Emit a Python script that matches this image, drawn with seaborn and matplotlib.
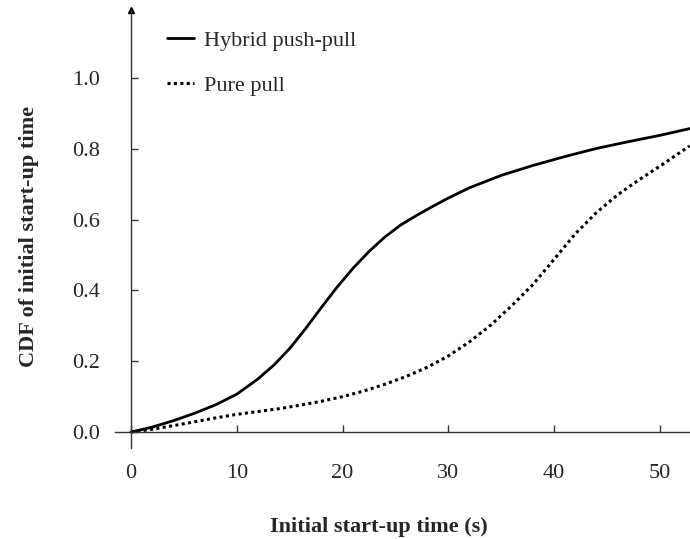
import matplotlib
matplotlib.use("Agg")
import matplotlib.pyplot as plt
import seaborn as sns
import pandas as pd

# Data
hybrid_x = [0, 2, 4, 6, 8, 10, 12, 13.5, 15, 16.5, 18, 19.5, 21, 22.5, 24, 25.5, 27,
            28.5, 30, 32, 35, 38, 41, 44, 47, 50, 52.8]
hybrid_y = [0, 0.014, 0.032, 0.053, 0.077, 0.107, 0.15, 0.189, 0.236, 0.292, 0.352, 0.41,
            0.463, 0.51, 0.551, 0.585, 0.612, 0.637, 0.661, 0.69, 0.725, 0.753, 0.778,
            0.801, 0.82, 0.838, 0.857]
pure_x = [0, 2, 4, 6, 8, 10, 12, 14, 16, 18, 20, 22, 24, 26, 28, 30, 32, 34, 36, 38,
          40, 42, 44, 46, 48, 50, 52.8]
pure_y = [0, 0.008, 0.018, 0.029, 0.04, 0.05, 0.058, 0.066, 0.076, 0.087, 0.10, 0.116,
          0.135, 0.157, 0.183, 0.215, 0.255, 0.302, 0.357, 0.417, 0.488, 0.56, 0.62,
          0.67, 0.712, 0.751, 0.808]
series_names = ["Hybrid push-pull", "Pure pull"]
x_ticks = [0, 10, 20, 30, 40, 50]
y_ticks = [0.0, 0.2, 0.4, 0.6, 0.8, 1.0]

sns.set_style("white")
plt.rcParams["font.family"] = ["Liberation Serif", "DejaVu Serif"]

FS = 16

fig = plt.figure(figsize=(6.9, 5.39), dpi=100)
ax = fig.add_axes([115 / 690, 1 - 448 / 539, 575 / 690, 438 / 539])

df_h = pd.DataFrame({"x": hybrid_x, "y": hybrid_y})
df_p = pd.DataFrame({"x": pure_x, "y": pure_y})
sns.lineplot(data=df_h, x="x", y="y", ax=ax, color="black", lw=2.0,
             label=series_names[0], sort=False)
sns.lineplot(data=df_p, x="x", y="y", ax=ax, color="black", lw=2.2,
             linestyle=(0, (1, 1.1)), label=series_names[1], sort=False)

ax.set_xlim(-1.51, 52.84)
ax.set_ylim(-0.045, 1.192)

for s in ["top", "right"]:
    ax.spines[s].set_visible(False)
ax.spines["left"].set_position(("data", 0))
ax.spines["bottom"].set_position(("data", 0))
for s in ["left", "bottom"]:
    ax.spines[s].set_color("#333333")
    ax.spines[s].set_linewidth(1.0)

ax.set_xticks(x_ticks)
ax.set_yticks(y_ticks)
ax.set_xticklabels([str(v) for v in x_ticks])
ax.set_yticklabels([f"{v:.1f}" for v in y_ticks])
ax.tick_params(axis="x", direction="in", length=5, width=1, color="#333333",
               pad=23, labelsize=FS, bottom=True)
ax.tick_params(axis="y", direction="in", length=5, width=1, color="#333333",
               pad=22, labelsize=FS, left=True)

# arrow at top of y axis
ax.plot(0, 1, marker="^", color="black", markersize=5, transform=ax.get_xaxis_transform(),
        clip_on=False)

ax.set_xlabel("Initial start-up time (s)", fontsize=FS, fontweight="bold")
ax.set_ylabel("CDF of initial start-up time", fontsize=FS, fontweight="bold")
ax.xaxis.set_label_coords((379 - 115) / 575, (448 - 517) / 438)
ax.yaxis.set_label_coords((39 - 115) / 575, (448 - 236) / 438)

leg = ax.legend(loc="upper left", bbox_to_anchor=(167 / 690, 1 - 30 / 539),
                bbox_transform=fig.transFigure, frameon=False, fontsize=FS,
                handlelength=1.2, handletextpad=0.45, labelspacing=1.1,
                borderpad=0, borderaxespad=0)

fig.savefig("out.png", dpi=100)
